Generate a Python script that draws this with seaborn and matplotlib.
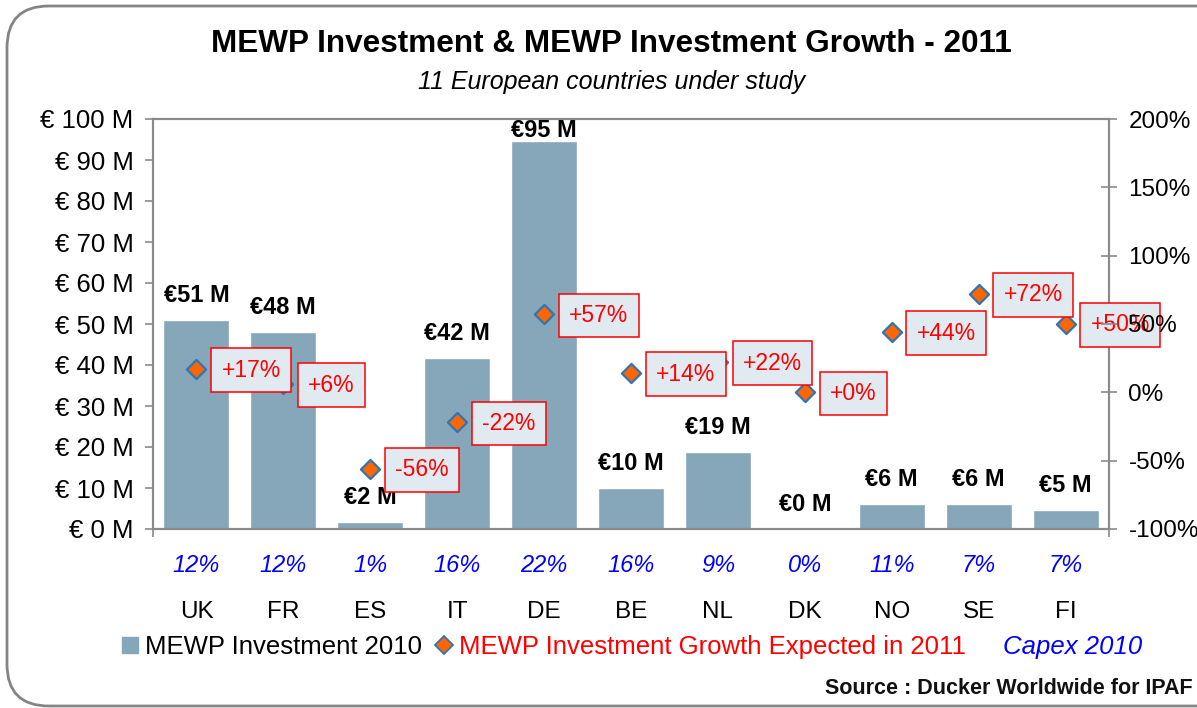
import numpy as np
import matplotlib
matplotlib.use("Agg")
import matplotlib.pyplot as plt
import seaborn as sns
from matplotlib.lines import Line2D
from matplotlib.patches import FancyBboxPatch
import matplotlib.transforms as mtransforms

# ---------------- data ----------------
countries = ["UK", "FR", "ES", "IT", "DE", "BE", "NL", "DK", "NO", "SE", "FI"]
investment_2010 = [51, 48, 1.7, 41.8, 94.6, 10, 18.8, 0, 6.1, 6.1, 4.6]   # € M
growth_2011 = [17, 6, -56, -22, 57, 14, 22, 0, 44, 72, 50]                 # %
capex_2010 = ["12%", "12%", "1%", "16%", "22%", "16%", "9%", "0%", "11%", "7%", "7%"]
left_ticks = [0, 10, 20, 30, 40, 50, 60, 70, 80, 90, 100]
right_ticks = [-100, -50, 0, 50, 100, 150, 200]

title = "MEWP Investment & MEWP Investment Growth - 2011"
subtitle = "11 European countries under study"
source = "Source : Ducker Worldwide for IPAF"

# ---------------- style ----------------
sns.set_theme(style="white")
plt.rcParams["font.family"] = ["Liberation Sans", "DejaVu Sans"]

BAR = "#86A6BA"
ORANGE = "#FF6600"
BLUE_EDGE = "#2E75B6"
SPINE = "#8A8A8A"

fig = plt.figure(figsize=(11.97, 7.08), dpi=100)
ax = fig.add_axes([153 / 1197, 1 - 529 / 708, (1109 - 153) / 1197, (529 - 119) / 708])
ax2 = ax.twinx()

sns.barplot(x=countries, y=investment_2010, color=BAR, saturation=1, width=0.76, ax=ax)
ax.set_xlim(-0.5, len(countries) - 0.5)
ax.set_ylim(0, 100)
ax.set_yticks(left_ticks)
ax.set_yticklabels([f"€ {v} M" for v in left_ticks])

for i, v in enumerate(investment_2010):
    ax.text(i, min(v + 6.0, 97.2), f"€{round(v)} M", ha="center", va="center",
            fontsize=17, fontweight="bold", color="black")

# growth diamonds
sns.scatterplot(x=np.arange(len(countries)), y=growth_2011, marker="D", s=95,
                color=ORANGE, edgecolor=BLUE_EDGE, linewidth=1.6, ax=ax2,
                zorder=4, legend=False)
ax2.set_ylim(-100, 200)
ax2.set_yticks(right_ticks)
ax2.set_yticklabels([f"{v}%" for v in right_ticks])
ax2.set_xlim(-0.5, len(countries) - 0.5)

for i, g in enumerate(growth_2011):
    ax2.annotate(f"{g:+d}%", xy=(i, g), xytext=(25, -1), textcoords="offset pixels",
                 ha="left", va="center", fontsize=16.5, color="red", zorder=5,
                 bbox=dict(boxstyle="square,pad=0.45", fc="#E1EAF0", ec="red", lw=1.1))
ax2.yaxis.set_zorder(6)

# capex row
trans = mtransforms.blended_transform_factory(ax.transData, ax.transAxes)
for i, c in enumerate(capex_2010):
    ax.text(i, -37 / 410, c, transform=trans, ha="center", va="center",
            fontsize=17, fontstyle="italic", color="#0000FF")

# axes styling
for a in (ax, ax2):
    for sp in a.spines.values():
        sp.set_color(SPINE)
        sp.set_linewidth(1.5)
        sp.set_visible(True)
ax.set_xlabel("")
ax.set_ylabel("")
ax2.set_ylabel("")
ax.tick_params(axis="y", which="major", direction="out", length=6, width=1.2,
               color=SPINE, pad=8, labelsize=18.5, left=True, labelcolor="black")
ax2.tick_params(axis="y", which="major", direction="inout", length=12, width=1.2,
                color=SPINE, pad=8, labelsize=17.5, right=True, labelcolor="black")
ax.tick_params(axis="x", which="major", length=0, pad=52, labelsize=17.5, labelcolor="black")
ax.set_xticks(np.arange(len(countries)))
ax.set_xticklabels(countries)
ax.set_xticks([-0.5, len(countries) - 0.5], minor=True)
ax.tick_params(axis="x", which="minor", direction="inout", length=12, width=1.2,
               color=SPINE, bottom=True)
ax2.tick_params(axis="x", which="both", length=0, labelbottom=False)

# titles
fig.text(611 / 1197, 1 - 44 / 708, title, ha="center", va="center",
         fontsize=22.7, fontweight="bold", color="black")
fig.text(612 / 1197, 1 - 82 / 708, subtitle, ha="center", va="center",
         fontsize=18, fontstyle="italic", color="black")

# legend
handles = [
    Line2D([], [], marker="s", linestyle="none", markersize=12, color=BAR),
    Line2D([], [], marker="D", linestyle="none", markersize=9,
           markerfacecolor=ORANGE, markeredgecolor=BLUE_EDGE, markeredgewidth=1.3),
    Line2D([], [], linestyle="none"),
]
labels = ["MEWP Investment 2010", "MEWP Investment Growth Expected in 2011", "Capex 2010"]
leg = fig.legend(handles, labels, loc="center", bbox_to_anchor=(631 / 1197, 1 - 647 / 708),
                 ncol=3, frameon=False, fontsize=18.5, handlelength=0.8,
                 handletextpad=0.2, columnspacing=0.45, borderpad=0)
txts = leg.get_texts()
txts[0].set_color("black")
txts[1].set_color("red")
txts[2].set_color("#0000FF")
txts[2].set_fontstyle("italic")

fig.text(1193 / 1197, 1 - 688 / 708, source, ha="right", va="center",
         fontsize=15.5, fontweight="bold", color="#111111")

# rounded outer border
border = FancyBboxPatch((7 / 1197, 2 / 708), 1240 / 1197, 700 / 708,
                        boxstyle="round,pad=0,rounding_size=0.035",
                        transform=fig.transFigure, fc="none", ec="#858585", lw=2,
                        mutation_aspect=1197 / 708, clip_on=False)
fig.patches.append(border)

fig.savefig("out.png", dpi=100)
